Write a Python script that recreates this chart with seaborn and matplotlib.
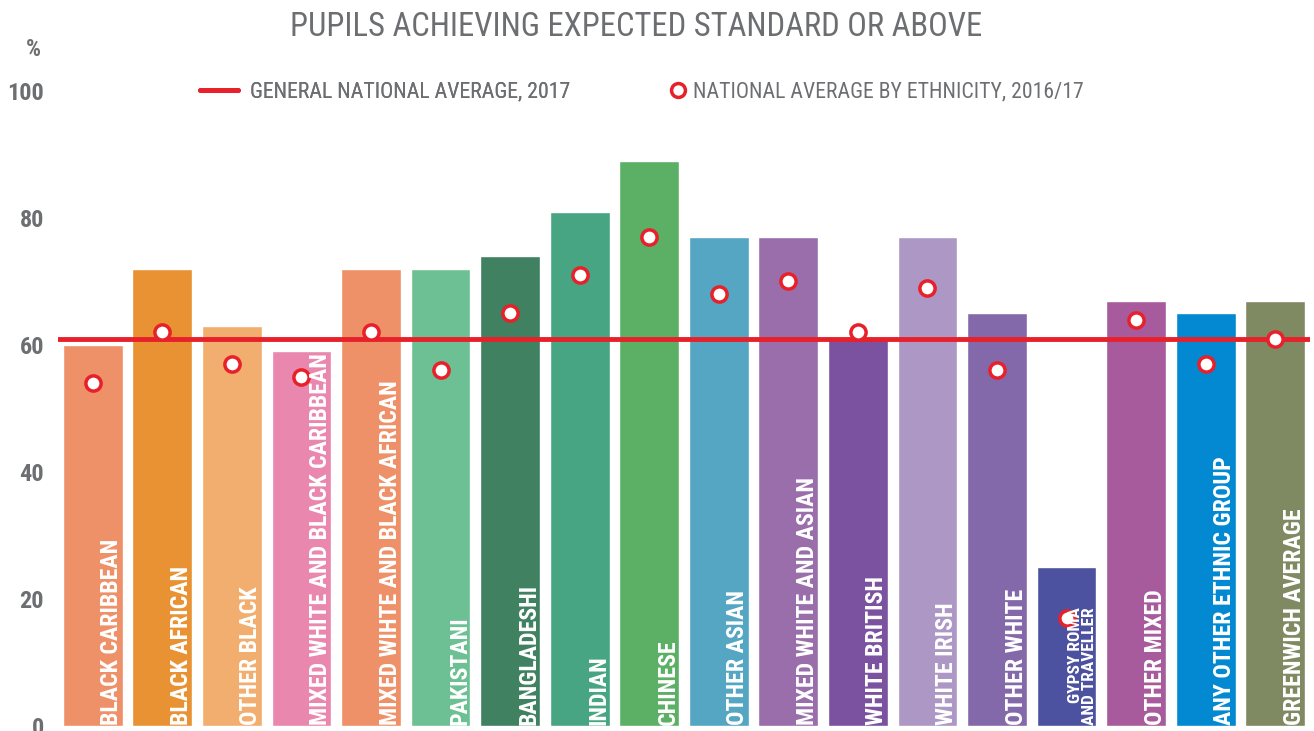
import matplotlib
matplotlib.use('Agg')
import matplotlib.pyplot as plt
from matplotlib import font_manager
from matplotlib.lines import Line2D
import seaborn as sns

# groups shown on the chart
groups = ['BLACK CARIBBEAN', 'BLACK AFRICAN', 'OTHER BLACK',
          'MIXED WHITE AND BLACK CARIBBEAN', 'MIXED WIHTE AND BLACK AFRICAN',
          'PAKISTANI', 'BANGLADESHI', 'INDIAN', 'CHINESE', 'OTHER ASIAN',
          'MIXED WHITE AND ASIAN', 'WHITE BRITISH', 'WHITE IRISH',
          'OTHER WHITE', 'GYPSY ROMA\nAND TRAVELLER', 'OTHER MIXED',
          'ANY OTHER ETHNIC GROUP', 'GREENWICH AVERAGE']
# Greenwich pupils at expected standard (%)
greenwich = [60, 72, 63, 59, 72, 72, 74, 81, 89, 77, 77, 61, 77, 65, 25, 67, 65, 67]
# national average by ethnicity 2016/17 (%)
national = [54, 62, 57, 55, 62, 56, 65, 71, 77, 68, 70, 62, 69, 56, 17, 64, 57, 61]
general_avg = 61

colors = ['#EE9068', '#E89234', '#F2AE6E', '#EA87AE', '#EE9068', '#6DC094',
          '#3F8160', '#47A583', '#5BB065', '#54A6C2', '#9A6EAB', '#7A52A0',
          '#AC97C5', '#8469AA', '#4C52A0', '#A75B9C', '#0289D1', '#7F8A63']

red = '#E8202A'
grey = '#6D6E71'

# pick the narrowest family that is installed
installed = {f.name for f in font_manager.fontManager.ttflist}
narrow = None
for fam in ['Roboto Condensed', 'Liberation Sans Narrow', 'Roboto']:
    if fam in installed:
        narrow = fam
        break
k = 1.0 if narrow in ('Roboto Condensed', 'Liberation Sans Narrow') else 0.88

sns.set_style('white')
plt.rcParams['font.family'] = [narrow, 'DejaVu Sans'] if narrow else ['DejaVu Sans']

fig = plt.figure(figsize=(13.14, 7.31), dpi=100)
ax = fig.add_axes([58 / 1314, 5 / 731, 1252 / 1314, 635 / 731])

sns.barplot(x=groups, y=greenwich, hue=groups, palette=colors, legend=False,
            width=0.86, saturation=1, ax=ax)

ax.axhline(general_avg, color=red, lw=3.5, zorder=3)

sns.scatterplot(x=groups, y=national, s=120, color='white', edgecolor=red,
                linewidth=2.5, zorder=4, ax=ax)

# labels inside the bars
for i, name in enumerate(groups):
    small = '\n' in name
    ax.text(i + 0.44, 0.2, name, rotation=90, ha='right', va='bottom',
            color='white', fontweight='bold',
            fontsize=(12.5 if small else 17.2) * k,
            linespacing=0.95, zorder=5)

ax.set_ylim(0, 100)
ax.set_xlim(-0.5, 17.5)
ax.set_yticks([0, 20, 40, 60, 80, 100])
ax.tick_params(axis='y', length=0, pad=10, labelsize=17.5 * k, labelcolor=grey)
for t in ax.get_yticklabels():
    t.set_fontweight('bold')
ax.set_xticks([])
ax.set_xlabel('')
sns.despine(ax=ax, left=True, bottom=True)

fig.text(33 / 1314, 1 - 50 / 731, '%', ha='center', va='center',
         fontsize=17 * k, fontweight='bold', color=grey)
fig.text(636 / 1314, 1 - 27 / 731, 'PUPILS ACHIEVING EXPECTED STANDARD OR ABOVE',
         ha='center', va='center', fontsize=23.5 * k, color=grey)

line_h = Line2D([], [], color=red, lw=3.5)
dot_h = Line2D([], [], ls='', marker='o', ms=10, mfc='white', mec=red, mew=2.5)
leg1 = fig.legend([line_h], ['GENERAL NATIONAL AVERAGE, 2017'],
                  loc='center left', bbox_to_anchor=(200 / 1314, 1 - 92 / 731),
                  frameon=False, fontsize=15.7 * k, labelcolor=grey,
                  borderpad=0, borderaxespad=0,
                  handlelength=1.75, handletextpad=0.55)
fig.legend([dot_h], ['NATIONAL AVERAGE BY ETHNICITY, 2016/17'],
           loc='center left', bbox_to_anchor=(669 / 1314, 1 - 92 / 731),
           frameon=False, fontsize=15.7 * k, labelcolor=grey,
           borderpad=0, borderaxespad=0,
           handlelength=0.8, handletextpad=0.3)
fig.add_artist(leg1)

fig.savefig('out.png', dpi=100)
